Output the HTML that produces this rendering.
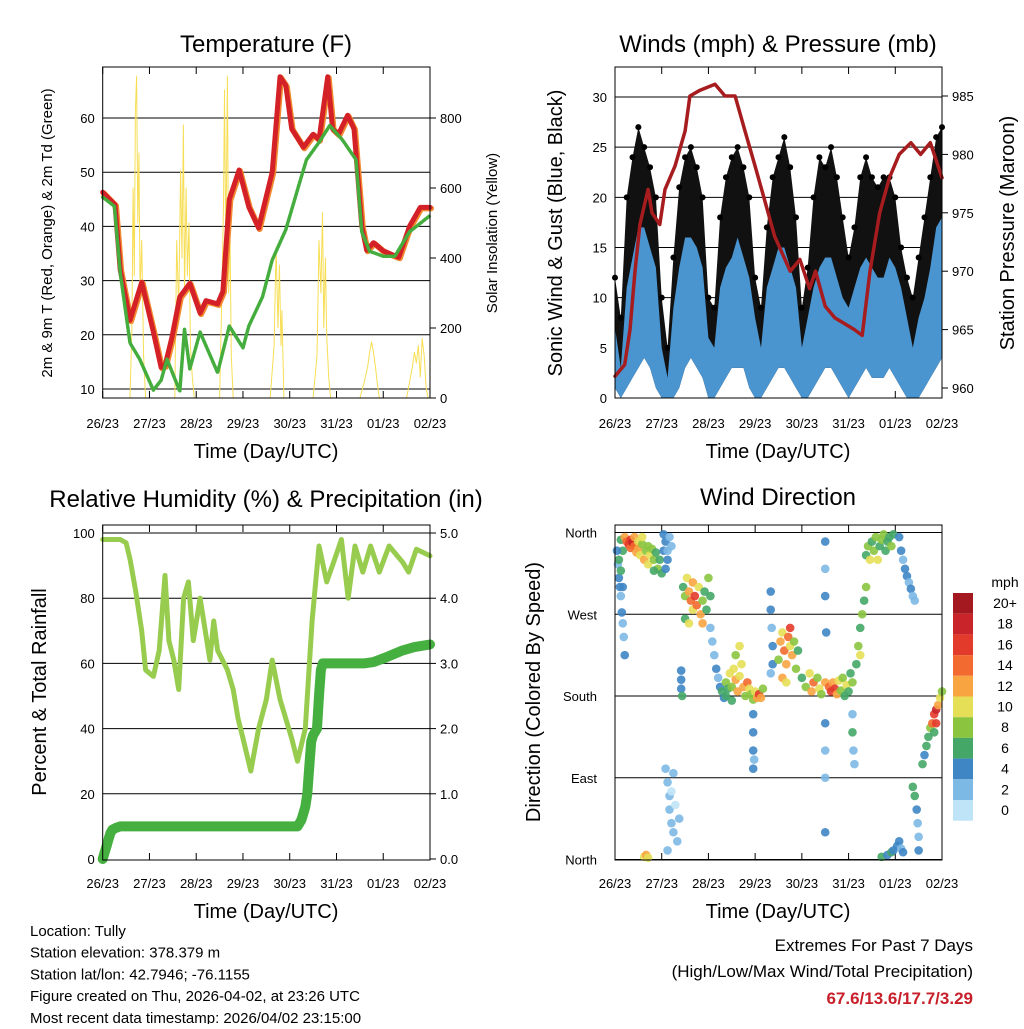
<!DOCTYPE html>
<html><head><meta charset="utf-8"><style>
body{margin:0;background:#fff}
svg text{font-family:"Liberation Sans",sans-serif;fill:#000}
</style></head><body>
<svg id="s" width="1024" height="1024" viewBox="0 0 1024 1024" xmlns="http://www.w3.org/2000/svg"></svg>
<script>
// ---------- DATA ----------
const dayLabels=["26/23","27/23","28/23","29/23","30/23","31/23","01/23","02/23"];
const tempRedH=[0,6.3,9,14,20,26,30,32,35.5,39.6,44.7,50,53,59,61.7,65,70,75,80,87,91,94,97,103,108,111,115.5,118,121,125.7,129,133,135.5,139,144,149,152,157.5,163,168];
const tempRedV=[46.3,44,32,22.7,29.7,20.5,14,14.3,19.5,27,29.5,24,26.3,25.7,28,45,50.4,43.6,39.7,50,67.6,66,58,54.6,57,56,67.6,58,57,60.5,58,40,35.6,37,35.5,34.7,34.3,40,43.5,43.5];
const tempGrnH=[0,6,9,14,19,26,30,33,39.6,42,44.7,50,59,65,72,75,82,87,94,101,104.6,111,116.5,123,130,133,137,144,150,157.5,168];
const tempGrnV=[45.4,43.7,31.5,18.5,15.5,9.8,11.6,15.5,9.6,21,13.7,20.5,13,21.6,17.6,21.6,27,33.8,39.4,48,52.3,55.5,58.6,56,52.3,39,35.4,34.5,34.5,39,42];
const solarH=[0,14,15,15.6,16.2,16.8,17.4,18,18.6,19.2,20,21,22,37,38,39,40,40.7,41.4,42,42.8,43.5,44.3,45,46,47,60,61,62,62.5,63.2,64,64.7,65.3,66,67,86,88,89,90,90.7,91.5,92,93,108,110,111,112,112.8,113.5,114.3,115,116,117,132,134,136,137,138,139,140,141,142,156,158,159,160,161,162,163,164,165,166,167,168];
const solarV=[0,0,200,600,350,820,920,500,700,300,450,120,0,0,450,250,650,400,780,300,600,350,500,150,60,0,0,250,550,880,400,920,300,500,120,0,0,150,430,200,380,150,250,0,0,120,450,300,530,200,400,180,60,0,0,40,90,130,160,130,90,40,0,0,60,90,130,100,150,60,170,120,30,0,0];
const hrs3=[0,3,6,9,12,15,18,21,24,27,30,33,36,39,42,45,48,51,54,57,60,63,66,69,72,75,78,81,84,87,90,93,96,99,102,105,108,111,114,117,120,123,126,129,132,135,138,141,144,147,150,153,156,159,162,165,168];
const gustHigh=[12,8,20,24,27,25,23,20,10,5,14,21,24,25,23,20,10,9,18,22,24,25,23,20,12,9,17,22,24,26,23,18,9,13,20,24,23,25,22,18,14,17,22,24,22,21,22,22,20,15,12,10,14,18,22,26,27];
const windHigh=[7,3,11,14,17,17,15,13,5,2,9,13,16,16,15,13,6,5,11,13,14,16,14,12,8,5,11,13,15,15,13,11,5,8,11,13,14,14,12,10,9,11,13,14,13,12,12,14,13,11,8,5,8,10,13,17,18];
const windLow=[1,0,1,2,3,4,3,1,0,0,0,1,3,4,3,2,0,0,1,2,3,3,3,1,0,0,1,2,3,3,2,1,0,0,1,2,3,3,2,1,0,1,2,3,2,2,2,3,2,1,0,0,0,1,2,3,4];
const presH=[0,5,7.7,10.3,12.8,17,19,23,25.7,30.8,36,38.5,43.7,51.4,56.5,61.7,66.8,72,77,82,90,95,100,103,108,113,118,123,127,131,136,141,146,152,157,162,166,168];
const presV=[961,962,965,970,974,977,975,974,977,979,982,985,985.5,986,985,985,982,979,976,973,970,971,968.5,970,967,966,965.5,965,964.5,970,975,978,980,981,980,981,979,978];
const rhH=[0,9,12,14,17,20,22,26,29,32,34,36.5,39,41.5,44,46.5,50,55,57,59,64,67,69.5,72,76,80,84,87,91,97,100,104,107.5,111,115,118.5,122.5,126,129.5,133.5,137.5,142,147,154,157,161,168];
const rhV=[98,98,97,92,82,70,58,56,64,87,67,61,52,80,85,67,80,61,73,64,58,52,43,37,27,40,49,61,49,37,30,40,73,96,85,91,98,80,96,88,96,88,96,91,88,95,93];
const rainH=[0,1,2,3,4,5,7,9,12,100,101,102,103,104,105,106,107,108,109,110,111,112,113,114,115,120,129,134,139,146,154,160,168];
const rainV=[0,0.1,0.2,0.3,0.4,0.45,0.48,0.5,0.5,0.5,0.55,0.6,0.7,0.8,1.0,1.4,1.8,1.9,1.95,2.0,2.5,2.9,3.0,3.0,3.0,3.0,3.0,3.0,3.02,3.1,3.2,3.25,3.29];
const dirH=[3,4,5,6,7,8,8,9,10,10,11,12,12,13,14,14,15,16,17,17,18,19,20,21,22,23,24,20,25,1,1.5,2,2.5,3,3.5,4,4.5,5,2,3,4,25,26,27,27,28,29,26,35,36,37,38,39,40,40,41,42,43,44,45,45,46,47,48,49,36,38,34,34,34,34.5,26,27,28,28,29,30,31,32,27,30,33,29,49,50,51,52,53,54,55,56,57,57,58,59,60,61,62,63,64,65,66,67,68,69,70,71,72,73,74,75,76,62,64,60,71,71,71,71,71.5,80,80,80.5,81,81,80,84,85,86,87,88,89,90,90,91,92,93,94,86,88,108,108,108,108.5,108,108,108,108,96,98,100,101,102,104,105,106,108,110,111,112,113,114,115,116,117,118,119,120,121,122,122,122,122.5,123,124,125,126,127,128,129,126,129,130,131,132,133,134,135,136,137,138,139,140,141,142,143,146,147,148,149,150,151,152,153,154,137,140,142,143,145,146,147,148,153,154,155,155.5,156,156,158,159,160,161,162,163,164,165,165,166,167,168,164,15,16,17];
const dirV=[352,340,355,350,347,352,343,349,345,355,338,350,342,335,347,355,330,340,345,325,335,342,330,338,320,330,315,318,340,340,325,310,300,290,272,260,245,225,330,318,300,358,350,340,330,355,345,320,300,290,310,295,285,305,275,290,280,300,270,285,260,295,275,310,290,265,260,208,198,188,180,100,85,70,55,40,30,60,20,10,95,45,75,255,240,225,210,200,190,185,178,180,195,188,205,190,210,198,185,202,215,190,180,195,188,182,176,185,178,182,178,188,225,235,175,160,140,120,100,110,295,275,255,235,215,205,220,240,250,230,215,245,255,235,225,240,210,230,200,195,350,320,290,250,150,120,90,30,200,190,205,185,195,200,188,182,195,190,185,195,188,182,197,186,200,180,192,185,205,195,160,140,120,105,215,235,255,270,285,300,225,335,345,330,350,340,355,330,345,352,358,340,350,355,345,358,355,340,330,320,312,305,298,290,285,3,5,8,10,15,20,12,8,80,70,55,40,25,10,105,115,125,135,145,150,160,165,150,170,178,185,140,3,5,2];
const dirS=[7,6,12,14,16,17,15,18,14,13,12,10,12,11,9,10,12,9,8,10,10,9,8,7,8,6,7,6,5,4,3,4,4,3,5,2,3,4,6,6,5,4,4,3,4,2,3,4,6,8,10,12,14,12,11,16,14,10,12,8,13,7,6,8,6,6,10,4,4,5,6,2,2,3,2,2,2,1,2,3,3,2,1,2,2,3,4,3,5,6,5,7,8,7,10,9,11,12,13,10,11,12,8,14,10,9,8,11,12,17,13,9,8,10,6,4,4,4,4,3,4,4,3,4,4,3,9,12,11,14,12,15,16,10,13,9,8,7,12,11,4,3,4,4,4,2,3,4,6,8,10,12,14,9,11,8,12,14,16,13,17,12,10,9,8,7,10,6,6,9,3,6,2,2,7,8,7,8,7,8,10,7,8,10,7,9,8,10,7,9,8,7,6,7,9,6,4,4,3,4,4,3,4,2,3,6,5,7,4,4,4,3,4,6,6,4,3,3,4,6,5,6,7,8,14,16,18,16,12,10,9,6,11,12,10];
const speedLabels=["20+","18","16","14","12","10","8","6","4","2","0"];
const speedColors=["#a3191f","#c9242a","#e23b2c","#f26a30","#f8a441","#e5df57","#8bc540","#45a767","#3f86c5","#7db9e5","#c0e4f7"];
// ---------- HELPERS ----------
const S=document.getElementById('s');const NS="http://www.w3.org/2000/svg";
function el(t,a,txt){const e=document.createElementNS(NS,t);for(const k in a)e.setAttribute(k,a[k]);if(txt!==undefined)e.textContent=txt;S.appendChild(e);return e;}
function txt(x,y,s,size,anchor,rot,name,extra){const a={x:x,y:y,'font-size':size,'text-anchor':anchor||'middle'};if(rot)a.transform='rotate(-90 '+x+' '+y+')';if(extra)for(const k in extra)a[k]=extra[k];const e=el('text',a,s);return e;}
function line(x1,y1,x2,y2,w,c,name){const e=el('line',{x1:x1,y1:y1,x2:x2,y2:y2,stroke:c||'#000','stroke-width':w||1});return e;}
function poly(pts,c,w,name,extra){const a={points:pts.map(p=>p[0].toFixed(1)+','+p[1].toFixed(1)).join(' '),fill:'none',stroke:c,'stroke-width':w,'stroke-linejoin':'round','stroke-linecap':'round'};if(extra)for(const k in extra)a[k]=extra[k];const e=el('polyline',a);return e;}
function area(top,bot,c,name){const pts=top.concat(bot.slice().reverse());const e=el('polygon',{points:pts.map(p=>p[0].toFixed(1)+','+p[1].toFixed(1)).join(' '),fill:c});return e;}
function lin(d0,d1,r0,r1){return v=>r0+(v-d0)*(r1-r0)/(d1-d0);}
function xAxis(L,R,B,T,labY,titleY,cx){const x=lin(0,168,L,R);for(let i=0;i<=7;i++){const xx=x(i*24);line(xx,B,xx,B-7,1,'#000','x-tick');line(xx,T,xx,T+7,1,'#000','x-tick-top');txt(xx,labY,dayLabels[i],13,'middle',false,'x-tick-label');}
 txt(cx,titleY,'Time (Day/UTC)',20,'middle',false,'x-axis-title');return x;}
function frame(L,T,R,B,name){const e=el('rect',{x:L,y:T,width:R-L,height:B-T,fill:'none',stroke:'#000','stroke-width':1});}
// ---------- PANEL 1: TEMPERATURE ----------
(function(){const L=102.7,R=430,T=67,B=398;
 const y=lin(10,60,389,118), ys=lin(0,800,398,118);
 txt(266,52,'Temperature (F)',24,'middle',false,'temperature-title');
 for(let v=10;v<=60;v+=10){line(L,y(v),R,y(v),1,'#000','temp-gridline');txt(L-8,y(v)+5,String(v),13,'end',false,'temp-y-tick-label');}
 for(let v=0;v<=800;v+=200){line(R,ys(v),R+6,ys(v),1,'#000','solar-tick');txt(R+10,ys(v)+5,String(v),13,'start',false,'solar-y-tick-label');}
 const x=xAxis(L,R,B,T,428,458,266);
 poly(solarH.map((h,i)=>[x(h),ys(solarV[i])]),'#f7de55',1,'solar-insolation-line');
 poly(tempRedH.map((h,i)=>[x(h)+1,y(tempRedV[i])+1]),'#f28a30',6,'temp-9m-line');
 poly(tempRedH.map((h,i)=>[x(h),y(tempRedV[i])]),'#d42027',5,'temp-2m-line');
 poly(tempGrnH.map((h,i)=>[x(h),y(tempGrnV[i])]),'#44ad3e',3.5,'dewpoint-line',{'stroke-dasharray':'3 1.5'});
 frame(L,T,R,B,'temp-plot-frame');
 txt(52,233,'2m & 9m T (Red, Orange) & 2m Td (Green)',15,'middle',true,'temp-y-axis-title');
 txt(497,233,'Solar Insolation (Yellow)',15,'middle',true,'solar-y-axis-title');
})();
// ---------- PANEL 2: WINDS ----------
(function(){const L=615,R=942,T=67,B=398;
 const y=lin(0,30,398,97), yp=lin(960,985,388,96);
 txt(778,52,'Winds (mph) & Pressure (mb)',24,'middle',false,'winds-title');
 for(let v=0;v<=30;v+=5){if(v>0)line(L,y(v),R,y(v),1,'#000','wind-gridline');txt(L-8,y(v)+5,String(v),13,'end',false,'wind-y-tick-label');}
 for(let v=960;v<=985;v+=5){line(R,yp(v),R+6,yp(v),1,'#000','pressure-tick');txt(R+10,yp(v)+5,String(v),13,'start',false,'pressure-y-tick-label');}
 const x=xAxis(L,R,B,T,428,458,778);
 const lowPts=hrs3.map((h,i)=>[x(h),y(windLow[i])]);
 area(hrs3.map((h,i)=>[x(h),y(gustHigh[i])]),lowPts,'#111','gust-band');
 hrs3.forEach((h,i)=>{const c=el('circle',{cx:x(h),cy:y(gustHigh[i]),r:3,fill:'#000'});});
 area(hrs3.map((h,i)=>[x(h),y(windHigh[i])]),lowPts,'#4a94d0','sonic-wind-band');
 poly(presH.map((h,i)=>[x(h),yp(presV[i])]),'#a61c1f',3.5,'pressure-line');
 frame(L,T,R,B,'wind-plot-frame');
 txt(562,233,'Sonic Wind & Gust (Blue, Black)',20,'middle',true,'wind-y-axis-title');
 txt(1014,233,'Station Pressure (Maroon)',20,'middle',true,'pressure-y-axis-title');
})();
// ---------- PANEL 3: RH & PRECIP ----------
(function(){const L=102.7,R=430,T=525,B=860;
 const y=lin(0,100,859,533), yr=lin(0,5,859,533);
 txt(266,507,'Relative Humidity (%) & Precipitation (in)',24,'middle',false,'humidity-title');
 for(let v=0;v<=100;v+=20){if(v>0)line(L,y(v),R,y(v),1,'#000','rh-gridline');txt(L-8,y(v)+5,String(v),13,'end',false,'rh-y-tick-label');}
 for(let v=0;v<=5;v+=1){line(R,yr(v),R+6,yr(v),1,'#000','precip-tick');txt(R+10,yr(v)+5,v.toFixed(1),13,'start',false,'precip-y-tick-label');}
 const x=xAxis(L,R,B,T,888,918,266);
 poly(rhH.map((h,i)=>[x(h),y(rhV[i])]),'#98cc4f',5,'rh-line');
 poly(rainH.map((h,i)=>[x(h),yr(rainV[i])]),'#45b040',10,'precip-line');
 frame(L,T,R,B,'rh-plot-frame');
 txt(46,692,'Percent & Total Rainfall',20,'middle',true,'rh-y-axis-title');
})();
// ---------- PANEL 4: WIND DIRECTION ----------
(function(){const L=615,R=942,T=525,B=860;
 const y=lin(0,360,859.5,532.5);
 txt(778,505,'Wind Direction',24,'middle',false,'wind-direction-title');
 const dn=["North","East","South","West","North"];
 for(let i=0;i<=4;i++){const v=i*90;line(L,y(v),R,y(v),1,'#000','direction-gridline');txt(L-18,y(v)+5,dn[i],13,'end',false,'direction-y-tick-label');}
 const x=xAxis(L,R,B,T,888,918,778);
 dirH.forEach((h,i)=>{const idx=Math.max(0,Math.min(10,10-Math.floor(dirS[i]/2)));const c=el('circle',{cx:x(h),cy:y(dirV[i]),r:4.3,fill:speedColors[idx],'fill-opacity':0.9});});
 frame(L,T,R,B,'direction-plot-frame');
 txt(540,692,'Direction (Colored By Speed)',20,'middle',true,'direction-y-axis-title');
 txt(1005,587,'mph',14,'middle',false,'colorbar-title');
 speedLabels.forEach((s,i)=>{const r=el('rect',{x:953,y:593+i*20.7,width:20,height:20.7,fill:speedColors[i]});txt(1005,608+i*20.7,s,14,'middle',false,'colorbar-label');});
})();
// ---------- FOOTER ----------
const info=["Location: Tully","Station elevation: 378.379 m","Station lat/lon: 42.7946; -76.1155","Figure created on Thu, 2026-04-02, at 23:26 UTC","Most recent data timestamp: 2026/04/02 23:15:00"];
info.forEach((s,i)=>txt(30,936+i*21.7,s,15,'start',false,'station-info-line'));
txt(973,951,'Extremes For Past 7 Days',17,'end',false,'extremes-heading');
txt(973,977,'(High/Low/Max Wind/Total Precipitation)',17,'end',false,'extremes-subheading');
txt(973,1004,'67.6/13.6/17.7/3.29',17,'end',false,'extremes-values',{'font-weight':'bold',fill:'#c8202a',style:'fill:#c8202a'});
</script>
</body></html>
